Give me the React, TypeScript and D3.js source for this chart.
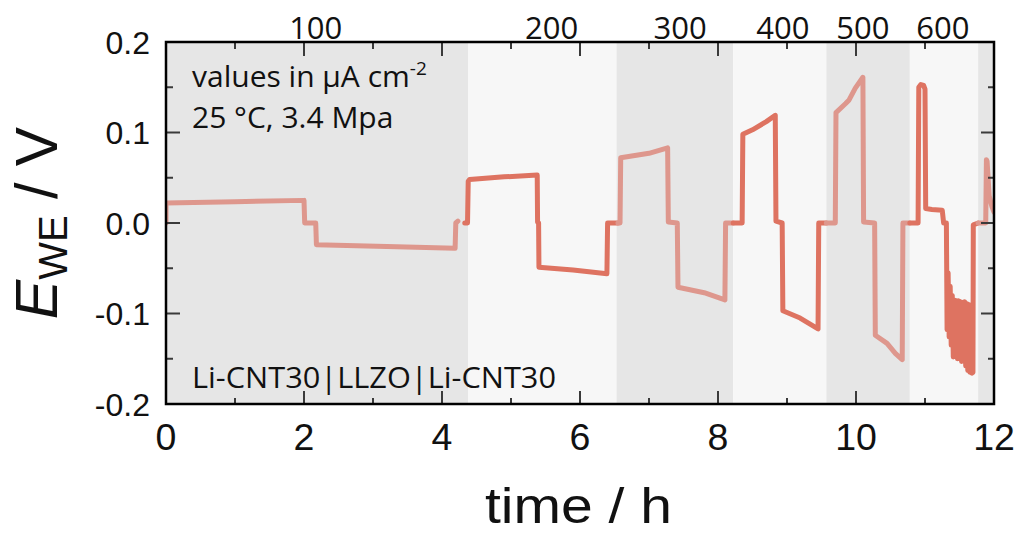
import React from 'react';
import * as d3 from 'd3';

// ---------- data ----------
const regionBounds = [0, 4.377, 6.53, 8.22, 9.57, 10.78, 11.77, 12];
const regionShade = ['dark', 'light', 'dark', 'light', 'dark', 'light', 'dark'];

const densityLabels = ['100', '200', '300', '400', '500', '600'];
const densityLabelTimes = [2.17, 5.59, 7.45, 8.94, 10.1, 11.26];

const xTickValues = [0, 1, 2, 3, 4, 5, 6, 7, 8, 9, 10, 11, 12];
const yTickValues = [-0.2, -0.15, -0.1, -0.05, 0, 0.05, 0.1, 0.15, 0.2];
const yTickLabels = ['-0.2', '-0.1', '0.0', '0.1', '0.2'];

const seg1: [number, number][] = [
  [0, 0], [0.0, 0.022], [1.0, 0.0235], [2.0, 0.025], [2.01, 0.0], [2.17, 0.0], [2.18, -0.024],
  [3.2, -0.026], [4.19, -0.028], [4.2, 0.0], [4.23, 0.002],
];
const seg2: [number, number][] = [
  [4.33, 0.0], [4.37, 0.0], [4.38, 0.046], [4.4, 0.048], [4.9, 0.051], [5.38, 0.053],
  [5.385, 0.001], [5.4, 0.0], [5.405, -0.049], [5.9, -0.052], [6.39, -0.056],
  [6.4, 0.0], [6.55, 0.0],
];
const seg3: [number, number][] = [
  [6.55, 0.0], [6.58, 0.0], [6.59, 0.072], [7.0, 0.077], [7.27, 0.083], [7.28, 0.001],
  [7.41, 0.0], [7.42, -0.071], [7.8, -0.077], [8.1, -0.085], [8.11, 0.0], [8.22, 0.0],
];
const seg4: [number, number][] = [
  [8.22, 0.0], [8.35, 0.0], [8.36, 0.098], [8.5, 0.103], [8.7, 0.112], [8.83, 0.119],
  [8.84, 0.002], [8.93, 0.0], [8.94, -0.097], [9.19, -0.105], [9.45, -0.117],
  [9.46, 0.0], [9.57, 0.0],
];
const seg5: [number, number][] = [
  [9.57, 0.0], [9.7, 0.0], [9.71, 0.122], [9.85, 0.132], [9.9, 0.136], [9.99, 0.149],
  [10.1, 0.161], [10.11, 0.001], [10.27, 0.0], [10.28, -0.124], [10.45, -0.133],
  [10.57, -0.144], [10.67, -0.151], [10.68, 0.0], [10.78, 0.0],
];
const seg6: [number, number][] = [
  [10.78, 0.0], [10.9, 0.0], [10.91, 0.15], [10.94, 0.153], [10.98, 0.152], [11.0, 0.148],
  [11.01, 0.016], [11.1, 0.015], [11.25, 0.014], [11.27, 0.0], [11.31, 0.0], [11.32, -0.118],
  [11.335, -0.055], [11.35, -0.126], [11.365, -0.07], [11.38, -0.135], [11.395, -0.08],
  [11.41, -0.148], [11.425, -0.085], [11.44, -0.14], [11.455, -0.086], [11.47, -0.15],
  [11.485, -0.086], [11.5, -0.145], [11.515, -0.087], [11.53, -0.153], [11.545, -0.088],
  [11.56, -0.148], [11.575, -0.087], [11.59, -0.158], [11.605, -0.089], [11.62, -0.163],
  [11.635, -0.09], [11.65, -0.165], [11.665, -0.092], [11.68, -0.166], [11.695, -0.165],
  [11.70, -0.002], [11.77, 0.0],
];
const seg7: [number, number][] = [
  [11.77, 0.0], [11.88, 0.0], [11.89, 0.07], [11.9, 0.068], [11.93, 0.03], [11.97, 0.018],
  [12.0, 0.012],
];
const segments = [seg1, seg2, seg3, seg4, seg5, seg6, seg7];
const segmentTone = ['light', 'strong', 'light', 'strong', 'light', 'strong', 'light'];

// ---------- layout ----------
const W = 1022;
const H = 539;
const L = 166, R = 994, T = 42, B = 404;

const COLORS: Record<string, string> = {
  dark: '#e6e6e6',
  light: '#f7f7f7',
  strong: '#de7361',
  lightLine: '#de978d',
};

export default function App() {
  const x = d3.scaleLinear().domain([0, 12]).range([L, R]);
  const y = d3.scaleLinear().domain([-0.2, 0.2]).range([B, T]);
  const line = d3
    .line<[number, number]>()
    .x((d) => x(d[0]))
    .y((d) => y(d[1]));

  const isMajorY = (v: number) => Math.abs(Math.round(v * 10) - v * 10) < 1e-6;

  return (
    <svg
      width={W}
      height={H}
      style={{ position: 'absolute', left: 0, top: 0, background: '#fff' }}
    >
      <defs>
        <clipPath id="plotclip">
          <rect x={L} y={T} width={R - L} height={B - T} />
        </clipPath>
      </defs>
      <rect x={0} y={0} width={W} height={H} fill="#fff" />

      {/* shaded regions */}
      {regionShade.map((s, i) => (
        <rect
          key={'r' + i}
          x={x(regionBounds[i])}
          y={T}
          width={x(regionBounds[i + 1]) - x(regionBounds[i])}
          height={B - T}
          fill={COLORS[s]}
        />
      ))}

      {/* annotations inside */}
      <g fontFamily="'Open Sans', sans-serif" fill="#111">
        <text x={192} y={87} fontSize={30}>
          values in µA cm<tspan fontSize={19} dy={-12}>-2</tspan>
        </text>
        <text x={192} y={128} fontSize={30}>25 °C, 3.4 Mpa</text>
        <text x={192} y={388} fontSize={30} textLength={364} lengthAdjust="spacingAndGlyphs">
          Li-CNT30|LLZO|Li-CNT30
        </text>
      </g>

      {/* data line */}
      <g clipPath="url(#plotclip)">
        {segments.map((seg, i) => (
          <path
            key={'s' + i}
            d={line(seg) || ''}
            fill="none"
            stroke={segmentTone[i] === 'strong' ? COLORS.strong : COLORS.lightLine}
            strokeWidth={5}
            strokeLinejoin="round"
            strokeLinecap="round"
          />
        ))}
      </g>

      {/* ticks */}
      <g stroke="#3a3a3a" strokeWidth={2}>
        {xTickValues.map((v) => {
          const major = v % 2 === 0;
          const px = x(v);
          return (
            <g key={'xt' + v}>
              <line x1={px} x2={px} y1={B} y2={B - (major ? 13 : 6)} />
              <line x1={px} x2={px} y1={T} y2={T + (major ? 14 : 7)} />
            </g>
          );
        })}
        {yTickValues.map((v) => {
          const major = isMajorY(v);
          const py = y(v);
          return (
            <g key={'yt' + v}>
              <line x1={L} x2={L + (major ? 14 : 7)} y1={py} y2={py} />
              <line x1={R} x2={R - (major ? 13 : 6)} y1={py} y2={py} />
            </g>
          );
        })}
      </g>

      {/* frame */}
      <rect x={L} y={T} width={R - L} height={B - T} fill="none" stroke="#000" strokeWidth={2.5} />

      {/* x tick labels */}
      <g fontFamily="Arial, 'Liberation Sans', sans-serif" fontSize={37.5} fill="#111" textAnchor="middle">
        {xTickValues
          .filter((v) => v % 2 === 0)
          .map((v) => (
            <text key={'xl' + v} x={x(v)} y={450}>
              {String(v)}
            </text>
          ))}
      </g>

      {/* y tick labels */}
      <g fontFamily="Arial, 'Liberation Sans', sans-serif" fontSize={32} fill="#111" textAnchor="end">
        {yTickLabels.map((lab) => (
          <text key={'yl' + lab} x={150} y={y(parseFloat(lab)) + 11.5}>
            {lab}
          </text>
        ))}
      </g>

      {/* top labels */}
      <g fontFamily="'Open Sans', sans-serif" fontSize={31} fill="#111" textAnchor="middle">
        {densityLabels.map((lab, i) => (
          <text key={'tl' + lab} x={x(densityLabelTimes[i])} y={39}>
            {lab}
          </text>
        ))}
      </g>

      {/* x axis title */}
      <text
        x={485}
        y={523}
        fontFamily="Arial, 'Liberation Sans', sans-serif"
        fontSize={50}
        fill="#111"
        textLength={187}
        lengthAdjust="spacingAndGlyphs"
      >
        time / h
      </text>

      {/* y axis title */}
      <text
        transform={`translate(57,${(T + B) / 2}) rotate(-90)`}
        fontFamily="Arial, 'Liberation Sans', sans-serif"
        fontSize={59}
        fill="#111"
        textAnchor="middle"
      >
        <tspan fontStyle="italic">E</tspan>
        <tspan fontSize={40} dy={10}>WE</tspan>
        <tspan dy={-10}> / V</tspan>
      </text>
    </svg>
  );
}
